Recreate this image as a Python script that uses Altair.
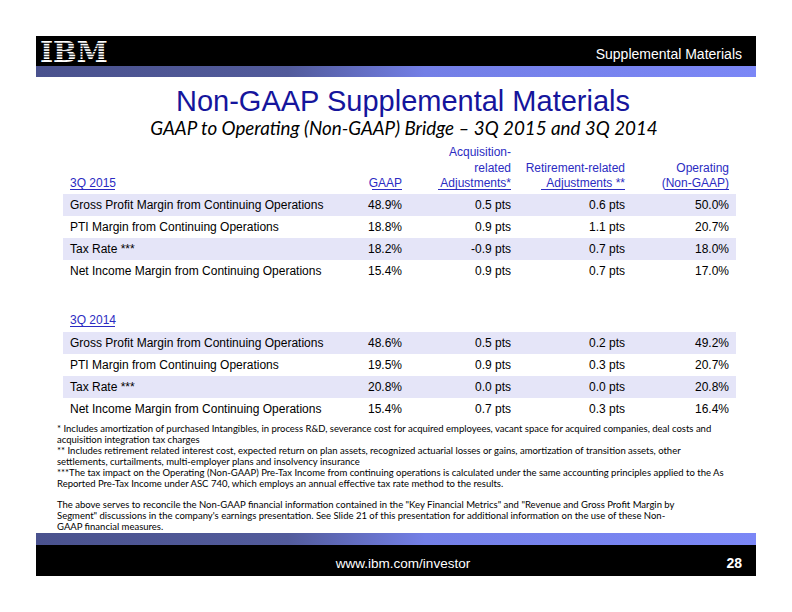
import altair as alt
import pandas as pd

# ---------------- data ----------------
row_labels = [
    "Gross Profit Margin from Continuing Operations",
    "PTI Margin from Continuing Operations",
    "Tax Rate ***",
    "Net Income Margin from Continuing Operations",
]
period_labels = ["3Q 2015", "3Q 2014"]
gaap_2015 = [48.9, 18.8, 18.2, 15.4]
acq_2015 = [0.5, 0.9, -0.9, 0.9]
ret_2015 = [0.6, 1.1, 0.7, 0.7]
op_2015 = [50.0, 20.7, 18.0, 17.0]
gaap_2014 = [48.6, 19.5, 20.8, 15.4]
acq_2014 = [0.5, 0.9, 0.0, 0.7]
ret_2014 = [0.2, 0.3, 0.0, 0.3]
op_2014 = [49.2, 20.7, 20.8, 16.4]

col_headers = [
    ["GAAP"],
    ["Acquisition-", "related", "Adjustments*"],
    ["Retirement-related", "Adjustments **"],
    ["Operating", "(Non-GAAP)"],
]

title = "Non-GAAP Supplemental Materials"
subtitle = "GAAP to Operating (Non-GAAP) Bridge \u2013 3Q 2015 and 3Q 2014"
header_label = "Supplemental Materials"
footer_url = "www.ibm.com/investor"
page_number = "28"
footnotes = [
    "*  Includes amortization of purchased Intangibles, in process R&D, severance cost for acquired employees, vacant space for acquired companies, deal costs and",
    "acquisition integration tax charges",
    "** Includes retirement related interest cost, expected return on plan assets, recognized actuarial losses or gains, amortization of transition assets, other",
    "settlements, curtailments, multi-employer plans and insolvency insurance",
    "***The tax impact on the Operating (Non-GAAP) Pre-Tax Income from continuing operations is calculated under the same accounting principles applied to the As",
    "Reported Pre-Tax Income under ASC 740, which employs an annual effective tax rate method to the results.",
    "",
    " The above serves to reconcile the Non-GAAP financial information contained in the \"Key Financial Metrics\" and \"Revenue and Gross Profit Margin by",
    "Segment\" discussions in the company's earnings presentation. See Slide 21 of this presentation for additional information on the use of these Non-",
    "GAAP financial measures.",
]

# ---------------- layout constants ----------------
W, H = 776, 596
SLIDE_L, SLIDE_R = 36, 756
LABEL_X = 70
COL_X = [402, 511, 625, 729]
BAND_L, BAND_R = 63, 736
ROW_PITCH = 22
SEC_HEAD_Y = [183, 320]
SEC_ROW0_Y = [205, 343]
HEAD_PITCH = 15.5
BLUE_HEAD = "#2b2bc2"
BAND_FILL = "#e5e5f8"
MAIN_FONT = "Liberation Sans"
NOTE_FONT = "Lato"
TABLE_SIZE = 12

xs = alt.Scale(domain=[8, 8 + W], nice=False, zero=False)
ys = alt.Scale(domain=[8, 8 + H], nice=False, zero=False, reverse=True)


def X(f):
    return alt.X(f, type="quantitative", scale=xs, axis=None)


def Y(f):
    return alt.Y(f, type="quantitative", scale=ys, axis=None)


def rects(df, **mk):
    return alt.Chart(df).mark_rect(**mk).encode(x=X("x"), x2="x2", y=Y("y"), y2="y2")


def texts(df, align, font, size, color, weight="normal", style="normal", baseline="middle"):
    return alt.Chart(df).mark_text(
        align=align, baseline=baseline, font=font, fontSize=size, color=color,
        fontWeight=weight, fontStyle=style,
    ).encode(x=X("x"), y=Y("y"), text="t:N")


def rules(df, color, width):
    return alt.Chart(df).mark_rule(color=color, strokeWidth=width).encode(
        x=X("x"), x2="x2", y=Y("y")
    )


layers = []

# black bars
layers.append(rects(pd.DataFrame({"x": [SLIDE_L, SLIDE_L], "x2": [SLIDE_R, SLIDE_R],
                                  "y": [36, 545], "y2": [66, 576]}), color="#000000"))
# gradient bands
grad = alt.Gradient(
    gradient="linear", x1=0, x2=1, y1=0, y2=0,
    stops=[alt.GradientStop(color="#4a528e", offset=0),
           alt.GradientStop(color="#525b9b", offset=0.35),
           alt.GradientStop(color="#737fe6", offset=0.54),
           alt.GradientStop(color="#7b87f6", offset=1)],
)
layers.append(rects(pd.DataFrame({"x": [SLIDE_L, SLIDE_L], "x2": [SLIDE_R, SLIDE_R],
                                  "y": [66, 533], "y2": [77, 545]}), fill=grad))

# IBM logo (striped)
layers.append(texts(pd.DataFrame({"t": ["IBM"], "x": [40], "y": [62]}), "left",
                    "DejaVu Serif", 28, "#ffffff", weight="bold", baseline="alphabetic"))
stripe_y = [41 + 2.7 * (k + 1) - 0.4 for k in range(7)]
layers.append(rules(pd.DataFrame({"x": [37] * 7, "x2": [108] * 7, "y": stripe_y}), "#000000", 1))
layers.append(rects(pd.DataFrame({"x": [37], "x2": [108], "y": [36], "y2": [41]}), color="#000000"))

# header / footer texts
layers.append(texts(pd.DataFrame({"t": [header_label], "x": [742], "y": [55]}), "right",
                    MAIN_FONT, 14, "#ffffff"))
layers.append(texts(pd.DataFrame({"t": [footer_url], "x": [403], "y": [564]}), "center",
                    MAIN_FONT, 13.5, "#ffffff"))
layers.append(texts(pd.DataFrame({"t": [page_number], "x": [742], "y": [564]}), "right",
                    MAIN_FONT, 14, "#ffffff", weight="bold"))

# titles
layers.append(texts(pd.DataFrame({"t": [title], "x": [403], "y": [102]}), "center",
                    MAIN_FONT, 29, "#15159c"))
layers.append(texts(pd.DataFrame({"t": [subtitle], "x": [404], "y": [129]}), "center",
                    NOTE_FONT, 18.8, "#000000", style="italic"))

# row bands
band_rows = []
for s in range(2):
    for r in (0, 2):
        cy = SEC_ROW0_Y[s] + r * ROW_PITCH
        band_rows.append({"x": BAND_L, "x2": BAND_R, "y": cy - 11, "y2": cy + 11})
layers.append(rects(pd.DataFrame(band_rows), color=BAND_FILL))

# header texts (blue)
head_left = [{"t": period_labels[s], "x": LABEL_X, "y": SEC_HEAD_Y[s]} for s in range(2)]
head_right = []
for ci, lines in enumerate(col_headers):
    n = len(lines)
    for li, line in enumerate(lines):
        head_right.append({"t": line, "x": COL_X[ci], "y": SEC_HEAD_Y[0] - (n - 1 - li) * HEAD_PITCH})
layers.append(texts(pd.DataFrame(head_left), "left", MAIN_FONT, TABLE_SIZE, BLUE_HEAD))
layers.append(texts(pd.DataFrame(head_right), "right", MAIN_FONT, TABLE_SIZE, BLUE_HEAD))

# underlines
ul = [
    {"x": LABEL_X, "x2": 115, "y": SEC_HEAD_Y[0] + 6.5},
    {"x": LABEL_X, "x2": 115, "y": SEC_HEAD_Y[1] + 6.5},
    {"x": 372, "x2": COL_X[0], "y": SEC_HEAD_Y[0] + 6.5},
    {"x": 438, "x2": COL_X[1], "y": SEC_HEAD_Y[0] + 6.5},
    {"x": 541, "x2": COL_X[2], "y": SEC_HEAD_Y[0] + 6.5},
    {"x": 665, "x2": COL_X[3], "y": SEC_HEAD_Y[0] + 6.5},
]
layers.append(rules(pd.DataFrame(ul), BLUE_HEAD, 1))

# table body
body_left, body_right = [], []
sections = [(gaap_2015, acq_2015, ret_2015, op_2015), (gaap_2014, acq_2014, ret_2014, op_2014)]
for s, (g, a, rt, o) in enumerate(sections):
    for i, lab in enumerate(row_labels):
        cy = SEC_ROW0_Y[s] + i * ROW_PITCH
        body_left.append({"t": lab, "x": LABEL_X, "y": cy})
        vals = [f"{g[i]:.1f}%", f"{a[i]:.1f} pts", f"{rt[i]:.1f} pts", f"{o[i]:.1f}%"]
        for ci, v in enumerate(vals):
            body_right.append({"t": v, "x": COL_X[ci], "y": cy})
layers.append(texts(pd.DataFrame(body_left), "left", MAIN_FONT, TABLE_SIZE, "#000000"))
layers.append(texts(pd.DataFrame(body_right), "right", MAIN_FONT, TABLE_SIZE, "#000000"))

# footnotes
fn = [{"t": line, "x": 57, "y": 429 + i * 10.9} for i, line in enumerate(footnotes) if line]
layers.append(texts(pd.DataFrame(fn), "left", NOTE_FONT, 9.5, "#000000"))

chart = alt.layer(*layers).properties(
    width=W, height=H, padding=0, autosize=alt.AutoSizeParams(type="none")
).configure_view(strokeWidth=0)

chart.save("out.html", embed_options={"renderer": "svg", "actions": False})
